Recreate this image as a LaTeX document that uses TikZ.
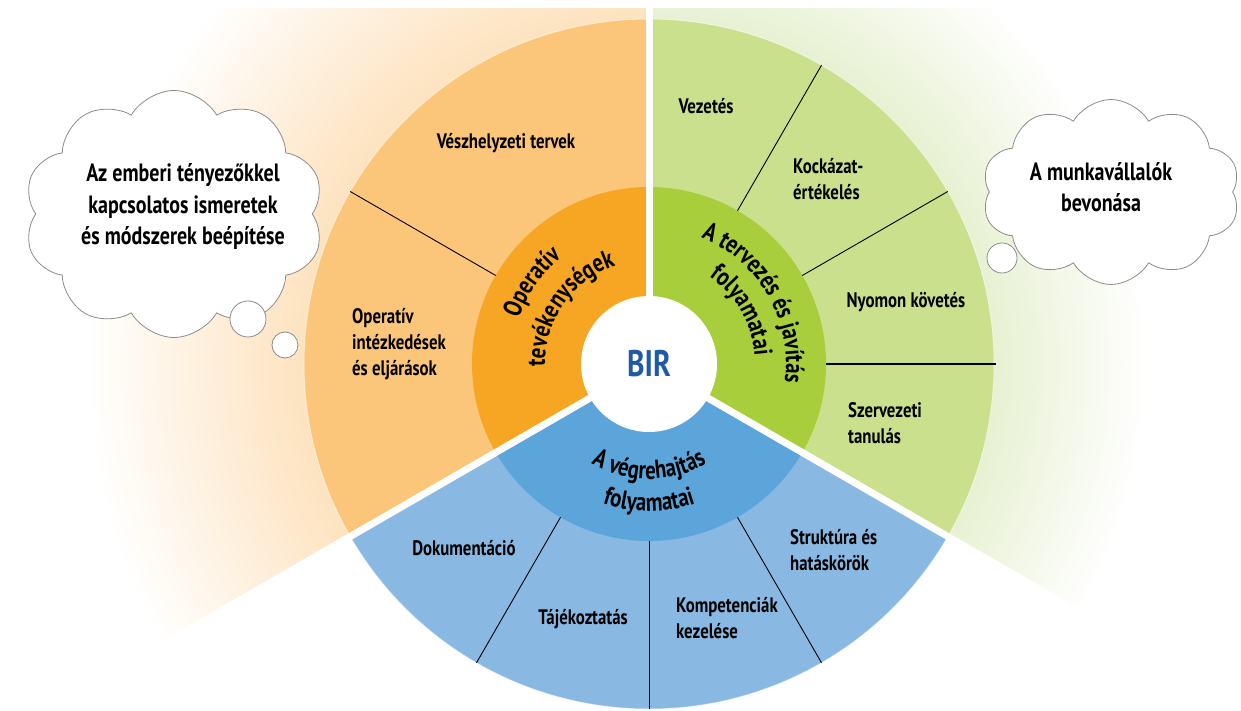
\documentclass[tikz,border=0pt]{standalone}
\usepackage{fontspec}
\newfontfamily\lbl{PT Sans}[FakeStretch=0.8]
\usepackage{tikz}
\usetikzlibrary{shapes,decorations.text,positioning}
\definecolor{orangemid}{HTML}{F6A623}
\definecolor{orangeout}{HTML}{FBC67A}
\definecolor{orangebg}{HTML}{FDDCB0}
\definecolor{greenmid}{HTML}{A8CE3C}
\definecolor{greenout}{HTML}{CAE08C}
\definecolor{greenbg}{HTML}{DEEBC0}
\definecolor{bluemid}{HTML}{5CA5DA}
\definecolor{blueout}{HTML}{89B8E2}
\definecolor{birblue}{HTML}{1F5AA8}
\pgfdeclareradialshading{orangefan}{\pgfpoint{0bp}{0bp}}{color(0bp)=(orangebg); color(11.5bp)=(orangebg); color(22bp)=(white); color(50bp)=(white)}
\pgfdeclareradialshading{greenfan}{\pgfpoint{0bp}{0bp}}{color(0bp)=(greenbg); color(11bp)=(greenbg); color(19.5bp)=(white); color(50bp)=(white)}
\tikzstyle{field}=[font=\lbl\bfseries\fontsize{21}{26}\selectfont, align=left, inner sep=0pt]
\tikzstyle{thought}=[cloud, cloud puffs=10, cloud puff arc=120, cloud ignores aspect, draw=black!45, fill=white, line width=0.8pt, inner sep=0pt]
\tikzstyle{thoughttext}=[align=center, inner sep=0pt, font=\lbl\bfseries\fontsize{25}{31.5}\selectfont]
\tikzstyle{bubble}=[circle, draw=black!45, fill=white, line width=0.8pt, inner sep=0pt]
\tikzstyle{divider}=[black, line width=0.9pt]
\tikzstyle{gap}=[white, line width=7pt]
\newcommand\midfont{\lbl\bfseries\fontsize{26}{30}\selectfont}

\begin{document}
\begin{tikzpicture}[x=1pt, y=1pt]
    \useasboundingbox (-649,-347) rectangle (592,364);

    % Hatter
    \begin{scope}
      \clip (-700,-400) rectangle (700,355);
      \clip (0,0) -- (90:900) arc[start angle=90, end angle=210, radius=900] -- cycle;
      \shade[shading=orangefan] (0,0) circle (640);
    \end{scope}
    \begin{scope}
      \clip (-700,-400) rectangle (700,355);
      \clip (0,0) -- (-30:900) arc[start angle=-30, end angle=90, radius=900] -- cycle;
      \shade[shading=greenfan] (0,0) circle (640);
    \end{scope}

    % Gyuruk
    \foreach \a/\c/\m in {90/orangeout/orangemid, 210/blueout/bluemid, -30/greenout/greenmid} {
      \fill[\c] (0,0) -- (\a:345) arc[start angle=\a, end angle=\a+120, radius=345] -- cycle;
      \fill[\m] (0,0) -- (\a:177) arc[start angle=\a, end angle=\a+120, radius=177] -- cycle;
    }
    \draw[white, opacity=0.5, line width=1pt] (0,0) circle (345);
    \foreach \a in {150,60,30,240,270,300}
      \draw[divider] (\a:177) -- (\a:345);
    \draw[divider, line width=1.6pt] (0:177) -- (0:347);
    \foreach \a in {90,210,330}
      \draw[gap] (0,0) -- (\a:900);
    \node[circle, fill=white, minimum size=136pt, inner sep=0pt, text=birblue, font=\lbl\bfseries\fontsize{37}{40}\selectfont] (bir) at (0,0) {BIR};

    % Kozepso gyuru
    \path[decorate, decoration={text along path, text align=center, text={|\midfont|Operatív}}] (200:138) arc[start angle=200, end angle=90, radius=138];
    \path[decorate, decoration={text along path, text align=center, text={|\midfont|tevékenységek}}] (200:104) arc[start angle=200, end angle=90, radius=104];
    \path[decorate, decoration={text along path, text align=center, text={|\midfont|A tervezés és javítás}}] (90:137) arc[start angle=90, end angle=-30, radius=137];
    \path[decorate, decoration={text along path, text align=center, text={|\midfont|folyamatai}}] (90:106) arc[start angle=90, end angle=-30, radius=106];
    \path[decorate, decoration={text along path, text align=center, text={|\midfont|A végrehajtás}}] (210:115) arc[start angle=210, end angle=330, radius=115];
    \path[decorate, decoration={text along path, text align=center, text={|\midfont|folyamatai}}] (210:147) arc[start angle=210, end angle=330, radius=147];

    % Kulso gyuru
    \node[field] (vesz) at (-143,221) {Vészhelyzeti tervek};
    \node[field, anchor=west] (intez) at (-297,20) {Operatív\\intézkedések\\és eljárások};
    \node[field] (vezet) at (57,258) {Vezetés};
    \node[field, anchor=west] (kock) at (144,185) {Kockázat-\\értékelés};
    \node[field] (nyomon) at (257,62) {Nyomon követés};
    \node[field, anchor=west] (szerv) at (199,-59) {Szervezeti\\tanulás};
    \node[field] (dok) at (-185,-184) {Dokumentáció};
    \node[field] (taj) at (-66,-255) {Tájékoztatás};
    \node[field, anchor=west] (komp) at (27,-254) {Kompetenciák\\kezelése};
    \node[field, anchor=west] (strukt) at (141,-186) {Struktúra és\\hatáskörök};

    % Felhok
    \node[thought, minimum width=300pt, minimum height=247pt] (leftcloud) at (-475,150) {};
    \node[thoughttext] (lefttext) at (-466,157) {Az emberi tényezőkkel\\kapcsolatos ismeretek\\és módszerek beépítése};
    \node[bubble, minimum size=36pt] (lb1) at (-401,45) {};
    \node[bubble, minimum size=26pt] (lb2) at (-364,19) {};
    \node[thought, minimum width=258pt, minimum height=185pt] (rightcloud) at (462,172) {};
    \node[thoughttext] (righttext) at (452,177) {A munkavállalók\\bevonása};
    \node[bubble, minimum size=30pt] (rb1) at (353,106) {};

  \end{tikzpicture}
\end{document}
